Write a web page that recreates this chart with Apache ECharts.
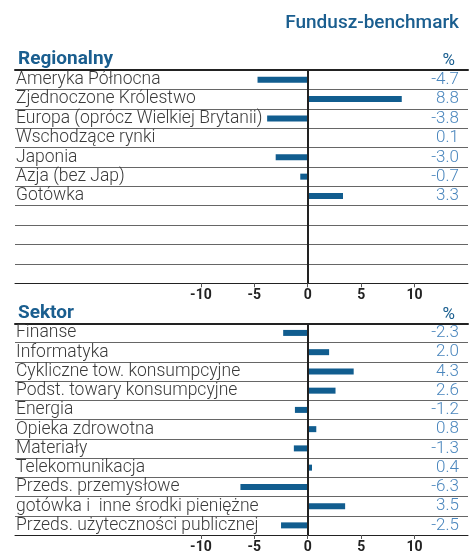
<!DOCTYPE html>
<html>
<head>
<meta charset="utf-8">
<script src="https://cdn.jsdelivr.net/npm/echarts@6/dist/echarts.min.js"></script>
<style>html,body{margin:0;padding:0;background:#fff;}#c{width:469px;height:554px;}</style>
</head>
<body>
<div id="c"></div>
<script>
const title = 'Fundusz-benchmark';
const regionTitle = 'Regionalny';
const sectorTitle = 'Sektor';
const regionCategories = ['Ameryka Północna','Zjednoczone Królestwo','Europa (oprócz Wielkiej Brytanii)','Wschodzące rynki','Japonia','Azja (bez Jap)','Gotówka'];
const regionValues = [-4.7, 8.8, -3.8, 0.1, -3.0, -0.7, 3.3];
const sectorCategories = ['Finanse','Informatyka','Cykliczne tow. konsumpcyjne','Podst. towary konsumpcyjne','Energia','Opieka zdrowotna','Materiały','Telekomunikacja','Przeds. przemysłowe','gotówka i  inne środki pieniężne','Przeds. użyteczności publicznej'];
const sectorValues = [-2.3, 2.0, 4.3, 2.6, -1.2, 0.8, -1.3, 0.4, -6.3, 3.5, -2.5];
const xTicks = [-10, -5, 0, 5, 10];
const rowCount = 11;

const blue = '#115d8f';
const catFont = 'Roboto';
const chart = echarts.init(document.getElementById('c'));

function xAxes(gi) {
  return [{
    type: 'value', gridIndex: gi, position: 'bottom', min: -27.4, max: 15,
    axisLine: {show: true, lineStyle: {color: '#222', width: 1}},
    axisTick: {show: true, customValues: xTicks, length: 4, lineStyle: {color: '#555'}},
    axisLabel: {show: true, customValues: xTicks, margin: 5, color: '#222', fontSize: 14, fontWeight: 'bold', fontFamily: catFont},
    splitLine: {show: false}
  }, {
    type: 'value', gridIndex: gi, position: 'top', min: -27.4, max: 15,
    axisLine: {show: true, lineStyle: {color: '#222', width: 2}},
    axisTick: {show: false}, axisLabel: {show: false}, splitLine: {show: false}
  }];
}
function yAxes(gi, cats, vals) {
  return [{
    type: 'category', gridIndex: gi, data: cats, inverse: true, max: rowCount - 1,
    axisLine: {show: false}, axisTick: {show: false},
    axisLabel: {inside: true, interval: 0, margin: 1, color: '#3a3a3a', fontSize: 17.5, fontFamily: catFont, fontWeight: 300},
    splitLine: {show: true, interval: 0, lineStyle: {color: '#666', width: 1}}
  }, {
    type: 'category', gridIndex: gi, data: vals.map(v => v.toFixed(1)), inverse: true, max: rowCount - 1, position: 'right',
    axisLine: {show: false}, axisTick: {show: false},
    axisLabel: {inside: true, interval: 0, margin: 9, color: '#4a86bd', fontSize: 17, fontFamily: catFont, fontWeight: 300},
    splitLine: {show: false}
  }];
}
function barSeries(gi, vals) {
  return {
    type: 'bar', xAxisIndex: gi * 2, yAxisIndex: gi * 2, data: vals, barWidth: 6,
    itemStyle: {color: blue}, silent: true,
    markLine: {silent: true, symbol: 'none', label: {show: false},
      lineStyle: {color: '#222', width: 2, type: 'solid'}, data: [{xAxis: 0}]}
  };
}

chart.setOption({
  animation: false,
  title: [
    {text: title, right: 5, top: 9, textStyle: {color: '#1a5e8f', fontSize: 19, fontWeight: 500, fontFamily: catFont}},
    {text: regionTitle, left: 13, top: 45, textStyle: {color: '#1a5e8f', fontSize: 19, fontWeight: 'bold', fontFamily: catFont}},
    {text: '%', right: 9, top: 47, textStyle: {color: '#1a5e8f', fontSize: 17, fontWeight: 'normal', fontFamily: catFont}},
    {text: sectorTitle, left: 13, top: 299, textStyle: {color: '#1a5e8f', fontSize: 19, fontWeight: 'bold', fontFamily: catFont}},
    {text: '%', right: 9, top: 301, textStyle: {color: '#1a5e8f', fontSize: 17, fontWeight: 'normal', fontFamily: catFont}}
  ],
  grid: [
    {left: 15, right: 1, top: 70, height: 213.3},
    {left: 15, right: 1, top: 323.3, height: 214.4}
  ],
  xAxis: [...xAxes(0), ...xAxes(1)],
  yAxis: [...yAxes(0, regionCategories, regionValues), ...yAxes(1, sectorCategories, sectorValues)],
  series: [barSeries(0, regionValues), barSeries(1, sectorValues)]
});
</script>
</body>
</html>
